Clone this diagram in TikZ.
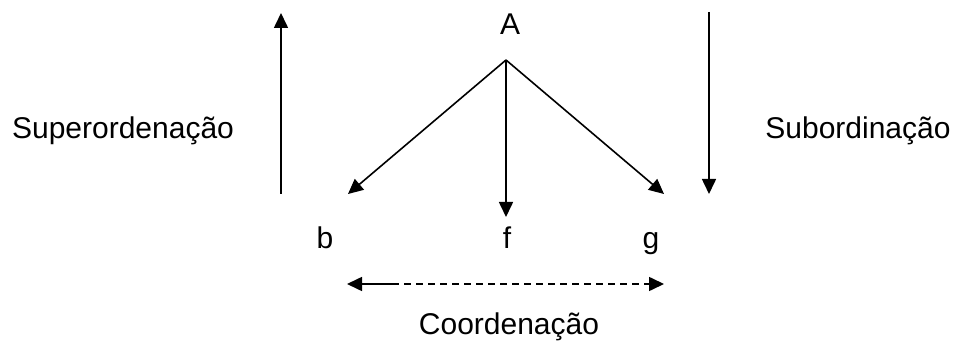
\documentclass[tikz,border=0pt]{standalone}
\usepackage{fontspec}
\setmainfont{Liberation Sans}
\usetikzlibrary{arrows.meta}

\tikzset{
    lbl/.style={font=\fontsize{30}{36}\selectfont, inner sep=0pt},
    arr/.style={line width=1.6pt, -{Triangle[length=15pt, width=14pt]}}
}

\begin{document}
\begin{tikzpicture}[x=1pt, y=-1pt]
    \useasboundingbox (0,0) rectangle (953,352);

    % Nodes
    \node[lbl, anchor=base] (A) at (510, 35) {A};
    \node[lbl, anchor=base] (b) at (325, 249) {b};
    \node[lbl, anchor=base] (f) at (507, 249) {f};
    \node[lbl, anchor=base] (g) at (651, 249) {g};
    \node[lbl] (sup) at (123, 131) {Superordenação};
    \node[lbl] (sub) at (858, 131) {Subordinação};
    \node[lbl] (coo) at (509, 327) {Coordenação};

    % Connector ends
    \coordinate (apex) at (506, 60);
    \coordinate (tb) at (348, 194);
    \coordinate (tf) at (506, 217);
    \coordinate (tg) at (664, 194);
    \coordinate (upbot) at (281, 194);
    \coordinate (uptop) at (281, 13);
    \coordinate (dntop) at (709, 12);
    \coordinate (dnbot) at (709, 194);
    \coordinate (cl) at (347, 284);
    \coordinate (cm) at (392, 284);
    \coordinate (cr) at (664, 284);

    % Tree
    \draw[arr] (apex) -- (tb);
    \draw[arr] (apex) -- (tf);
    \draw[arr] (apex) -- (tg);

    % Direction arrows
    \draw[arr] (upbot) -- (uptop);
    \draw[arr] (dntop) -- (dnbot);

    % Coordination
    \draw[arr] (cm) -- (cl);
    \draw[arr, dash pattern=on 7pt off 5pt] (cm) -- (cr);
\end{tikzpicture}
\end{document}
